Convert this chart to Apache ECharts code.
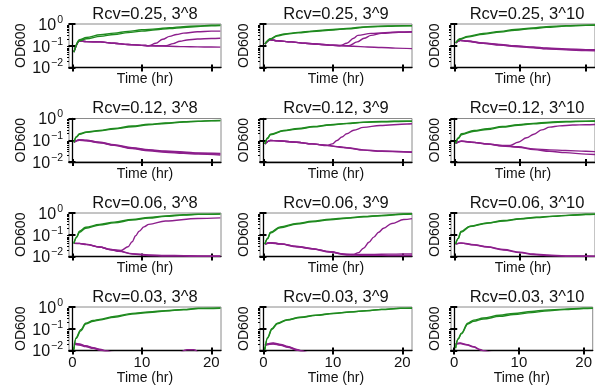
<!DOCTYPE html>
<html><head><meta charset="utf-8">
<script src="https://cdn.jsdelivr.net/npm/echarts@6/dist/echarts.min.js"></script>
<style>html,body{margin:0;padding:0;background:#fff}#c{width:595px;height:388px}</style>
</head><body><div id="c"></div>
<script>
// ---- labels ----
const rcvLabels = ['0.25', '0.12', '0.06', '0.03'];
const powLabels = ['3^8', '3^9', '3^10'];
const xTicks = [0, 10, 20];
const yTicks = [0.01, 0.1, 1];
const yMinorTicks = [0.02,0.03,0.04,0.05,0.06,0.07,0.08,0.09,0.2,0.3,0.4,0.5,0.6,0.7,0.8,0.9];
const yTickExp = {'0.01': '\u22122', '0.1': '\u22121', '1': '0'};

// ---- data: [time (hr), OD600] ----
// Rcv=0.25, 3^8
const G_025_8a = [[0.2,0.051],[1,0.19],[2,0.24],[4,0.32],[6,0.38],[8,0.46],[10,0.54],[12,0.6],[14,0.68],[16,0.76],[18,0.81],[20,0.87],[21.3,0.89]];
const G_025_8b = [[0.2,0.051],[1,0.17],[2,0.21],[4,0.27],[6,0.33],[8,0.4],[10,0.47],[12,0.54],[14,0.62],[16,0.69],[18,0.76],[20,0.83],[21.3,0.85]];
const P_025_8a = [[0.2,0.051],[1,0.166],[2,0.155],[4,0.15],[6,0.13],[8,0.115],[10,0.104],[11,0.1],[12,0.098],[14,0.095],[16,0.091],[18,0.089],[20,0.087],[21.3,0.086]];
const P_025_8b = [[0.2,0.051],[1,0.166],[2,0.155],[4,0.15],[6,0.13],[8,0.115],[10,0.104],[11,0.1],[12,0.13],[13,0.2],[14,0.27],[15,0.33],[16,0.38],[18,0.44],[20,0.47],[21.3,0.47]];
const P_025_8c = [[0.2,0.051],[1,0.166],[2,0.155],[4,0.15],[6,0.13],[8,0.115],[10,0.104],[11,0.1],[13.5,0.1],[14.5,0.125],[15.5,0.16],[16.5,0.185],[18,0.205],[20,0.215],[21.3,0.22]];
// Rcv=0.25, 3^9
const G_025_9a = [[0.2,0.12],[1,0.21],[2,0.3],[3,0.35],[5,0.41],[7,0.47],[10,0.56],[12,0.62],[15,0.76],[18,0.81],[20,0.83],[21.4,0.84]];
const G_025_9b = [[0.2,0.12],[1,0.2],[2,0.28],[3,0.33],[5,0.39],[7,0.45],[10,0.53],[12,0.6],[15,0.72],[18,0.79],[20,0.82],[21.4,0.83]];
const P_025_9a = [[0.2,0.12],[1,0.19],[2,0.17],[4,0.15],[6,0.13],[8,0.117],[10,0.105],[11.5,0.1],[13,0.095],[15,0.088],[17,0.083],[19,0.078],[21.4,0.074]];
const P_025_9b = [[0.2,0.12],[1,0.19],[2,0.17],[4,0.15],[6,0.13],[8,0.117],[10,0.105],[11,0.1],[12,0.13],[13,0.22],[13.6,0.3],[15.5,0.37],[19.5,0.43],[21.4,0.44]];
const P_025_9c = [[0.2,0.12],[1,0.19],[2,0.17],[4,0.15],[6,0.13],[8,0.117],[10,0.105],[12.3,0.1],[13.5,0.15],[14.5,0.22],[15.5,0.3],[17,0.37],[19.5,0.42],[21.4,0.43]];
// Rcv=0.25, 3^10
const G_025_10a = [[0.2,0.135],[0.9,0.21],[2,0.27],[4.4,0.37],[7,0.46],[9.2,0.56],[12,0.66],[14,0.76],[17,0.84],[20,0.89],[21.4,0.9]];
const G_025_10b = [[0.2,0.135],[0.9,0.2],[2,0.25],[4.4,0.34],[7,0.43],[9.2,0.52],[12,0.62],[14,0.7],[17,0.8],[20,0.86],[21.4,0.87]];
const P_025_10a = [[0.2,0.135],[0.9,0.18],[2,0.165],[4.4,0.135],[7,0.115],[9.2,0.1],[12,0.088],[14,0.079],[17,0.072],[20,0.066],[21.4,0.065]];
const P_025_10b = [[0.2,0.135],[0.9,0.18],[2,0.16],[4.4,0.13],[7,0.11],[9.2,0.096],[12,0.084],[14,0.075],[17,0.068],[20,0.062],[21.4,0.061]];
const P_025_10c = [[0.2,0.135],[0.9,0.175],[2,0.16],[4.4,0.128],[7,0.107],[9.2,0.093],[12,0.081],[14,0.072],[17,0.065],[20,0.06],[21.4,0.059]];
// Rcv=0.12, 3^8
const G_012_8a = [[0.2,0.081],[0.6,0.15],[1,0.2],[2,0.24],[3.9,0.28],[6,0.35],[8.6,0.45],[11,0.54],[13.4,0.62],[16,0.71],[18.1,0.76],[20,0.8],[21.3,0.81]];
const G_012_8b = [[0.2,0.081],[0.6,0.14],[1,0.19],[2,0.23],[3.9,0.27],[6,0.33],[8.6,0.42],[11,0.51],[13.4,0.59],[16,0.68],[18.1,0.74],[20,0.78],[21.3,0.8]];
const P_012_8a = [[0.2,0.081],[1,0.105],[2,0.1],[3.9,0.081],[6,0.062],[8.6,0.045],[11,0.037],[13.4,0.032],[16,0.029],[18.1,0.026],[21.3,0.025]];
const P_012_8b = [[0.2,0.081],[1,0.105],[2,0.098],[3.9,0.079],[6,0.06],[8.6,0.043],[11,0.035],[13.4,0.03],[16,0.027],[18.1,0.025],[21.3,0.023]];
const P_012_8c = [[0.2,0.081],[1,0.1],[2,0.095],[3.9,0.077],[6,0.058],[8.6,0.041],[11,0.033],[13.4,0.028],[16,0.025],[18.1,0.023],[21.3,0.021]];
// Rcv=0.12, 3^9
const G_012_9a = [[0.2,0.068],[0.6,0.13],[1,0.19],[2.9,0.28],[5,0.35],[7.2,0.43],[9.6,0.52],[12,0.6],[14.4,0.68],[17,0.73],[20.7,0.76],[21.4,0.76]];
const G_012_9b = [[0.2,0.068],[0.6,0.12],[1,0.18],[2.9,0.27],[5,0.33],[7.2,0.41],[9.6,0.5],[12,0.58],[14.4,0.66],[17,0.71],[20.7,0.75],[21.4,0.75]];
const P_012_9a = [[0.2,0.068],[1,0.098],[2,0.095],[4.8,0.081],[7,0.068],[9.2,0.058],[11,0.05],[12,0.046],[14.4,0.036],[17,0.032],[20.2,0.03],[21.4,0.029]];
const P_012_9b = [[0.2,0.068],[1,0.098],[2,0.095],[4.8,0.081],[7,0.068],[9.2,0.057],[11,0.048],[12,0.044],[14.4,0.035],[17,0.031],[20.2,0.029],[21.4,0.028]];
const P_012_9c = [[0.2,0.068],[1,0.098],[2,0.095],[4.8,0.081],[7,0.068],[9.2,0.058],[9.9,0.068],[10.6,0.098],[11.3,0.14],[12,0.2],[13,0.29],[14.4,0.39],[16.8,0.48],[20.7,0.56],[21.4,0.57]];
// Rcv=0.12, 3^10
const G_012_10a = [[0.2,0.072],[0.6,0.13],[1.1,0.2],[3,0.28],[5,0.34],[7.3,0.43],[9.7,0.52],[12,0.6],[14.5,0.68],[17,0.73],[20,0.76],[21.4,0.77]];
const G_012_10b = [[0.2,0.072],[0.6,0.12],[1.1,0.18],[3,0.26],[5,0.31],[7.3,0.4],[9.7,0.49],[12,0.57],[14.5,0.64],[17,0.7],[20,0.74],[21.4,0.75]];
const P_012_10a = [[0.2,0.072],[1.1,0.091],[3,0.08],[5,0.068],[7.3,0.058],[8.5,0.058],[9.7,0.081],[11,0.13],[12.1,0.19],[13.3,0.3],[14.5,0.4],[16,0.46],[18,0.5],[20,0.52],[21.4,0.53]];
const P_012_10b = [[0.2,0.072],[1.1,0.091],[3,0.08],[5,0.068],[7.3,0.056],[9.7,0.05],[12.1,0.04],[14.5,0.036],[16.9,0.034],[20,0.031],[21.4,0.03]];
const P_012_10c = [[0.2,0.072],[1.1,0.09],[3,0.079],[5,0.066],[7.3,0.054],[9.7,0.048],[12.1,0.037],[14.5,0.031],[16.9,0.027],[20,0.023],[21.4,0.022]];
// Rcv=0.06, 3^8
const G_006_8a = [[0.2,0.04],[0.6,0.08],[1,0.145],[1.9,0.22],[3.9,0.3],[6,0.38],[8.6,0.51],[11,0.62],[13.4,0.74],[16,0.83],[18.1,0.89],[21.3,0.91]];
const G_006_8b = [[0.2,0.04],[0.6,0.075],[1,0.13],[1.9,0.2],[3.9,0.28],[6,0.35],[8.6,0.47],[11,0.58],[13.4,0.7],[16,0.8],[18.1,0.86],[21.3,0.89]];
const P_006_8a = [[0.2,0.04],[1,0.04],[2,0.036],[3.9,0.0275],[5.5,0.021],[6.7,0.0178],[8.6,0.0135],[11,0.0118],[13.4,0.0112],[16,0.011],[18,0.0107],[21.3,0.0105]];
const P_006_8b = [[0.2,0.04],[1,0.039],[2,0.035],[3.9,0.027],[5.5,0.0205],[6.7,0.0172],[8.6,0.013],[11,0.0112],[13.4,0.0106],[16,0.0104],[18,0.0102],[21.3,0.0101]];
const P_006_8c = [[0.2,0.04],[1,0.04],[2,0.036],[3.9,0.0275],[5.5,0.021],[7,0.019],[8,0.028],[8.6,0.048],[9.1,0.09],[9.6,0.145],[10.3,0.23],[11,0.3],[13.4,0.43],[18,0.56],[21.3,0.6]];
// Rcv=0.06, 3^9
const G_006_9a = [[0.2,0.037],[0.6,0.07],[1,0.13],[2.4,0.23],[4.8,0.33],[7,0.42],[9.6,0.52],[12,0.6],[14.4,0.69],[17,0.78],[20.2,0.91],[21.4,0.92]];
const G_006_9b = [[0.2,0.037],[0.6,0.065],[1,0.12],[2.4,0.21],[4.8,0.31],[7,0.39],[9.6,0.49],[12,0.57],[14.4,0.66],[17,0.75],[20.2,0.88],[21.4,0.9]];
const P_006_9a = [[0.2,0.037],[1,0.043],[2.5,0.038],[4.8,0.029],[7,0.023],[9.6,0.0166],[12,0.0123],[14,0.0123],[16,0.0125],[18,0.0128],[20.2,0.013],[21.4,0.013]];
const P_006_9b = [[0.2,0.037],[1,0.042],[2.5,0.037],[4.8,0.028],[7,0.022],[9.6,0.016],[12,0.0118],[14,0.0115],[16,0.0113],[18,0.0112],[20.2,0.011],[21.4,0.011]];
const P_006_9c = [[0.2,0.037],[1,0.043],[2.5,0.038],[4.8,0.029],[7,0.023],[9.6,0.0166],[11,0.0135],[12.9,0.0123],[13.7,0.015],[14.4,0.024],[15.2,0.045],[15.9,0.078],[16.6,0.13],[17.3,0.2],[18.5,0.33],[20.2,0.5],[21.4,0.55]];
// Rcv=0.06, 3^10
const G_006_10a = [[0.2,0.037],[0.6,0.07],[1,0.14],[2.4,0.25],[5,0.35],[7.5,0.45],[10,0.55],[12.5,0.64],[15,0.72],[17.5,0.8],[20,0.87],[21.4,0.89]];
const G_006_10b = [[0.2,0.037],[0.6,0.066],[1,0.13],[2.4,0.24],[5,0.34],[7.5,0.43],[10,0.53],[12.5,0.62],[15,0.7],[17.5,0.78],[20,0.85],[21.4,0.87]];
const P_006_10a = [[0.2,0.037],[1,0.042],[3,0.035],[5,0.028],[7.5,0.021],[10,0.0158],[12,0.013],[14,0.0117],[17,0.0107],[20,0.0105],[21.4,0.0104]];
const P_006_10b = [[0.2,0.037],[1,0.041],[3,0.034],[5,0.027],[7.5,0.02],[10,0.015],[12,0.0124],[14,0.0112],[17,0.0103],[20,0.0101],[21.4,0.0101]];
// Rcv=0.03, 3^8
const G_003_8a = [[0.2,0.011],[0.5,0.038],[1.2,0.09],[1.9,0.18],[3,0.24],[3.9,0.27],[6,0.37],[8.6,0.51],[11,0.6],[13.4,0.68],[16,0.78],[18.1,0.87],[21.3,0.9]];
const G_003_8b = [[0.2,0.011],[0.5,0.035],[1.2,0.08],[1.9,0.165],[3,0.22],[3.9,0.25],[6,0.34],[8.6,0.47],[11,0.56],[13.4,0.65],[16,0.75],[18.1,0.84],[21.3,0.88]];
const P_003_8a = [[0.2,0.022],[1,0.02],[1.9,0.0165],[3,0.0135],[3.9,0.0115],[5,0.0095],[6,0.008],[8,0.006],[12,0.005],[15,0.007],[16.5,0.0108],[17.5,0.0108],[18.5,0.007],[21.3,0.005]];
const P_003_8b = [[0.2,0.021],[1,0.019],[1.9,0.0158],[3,0.013],[3.9,0.011],[5,0.009],[6,0.0075],[9,0.005],[21.3,0.004]];
const P_003_8c = [[0.2,0.02],[1,0.018],[1.9,0.015],[3,0.0125],[3.9,0.0105],[5,0.0086],[6,0.007],[9,0.005],[21.3,0.004]];
// Rcv=0.03, 3^9
const G_003_9a = [[0.2,0.011],[0.6,0.04],[1.2,0.1],[2,0.18],[3.4,0.26],[5.3,0.34],[7.5,0.42],[10.1,0.51],[12.5,0.6],[14.9,0.68],[17,0.78],[19.7,0.87],[21.4,0.89]];
const G_003_9b = [[0.2,0.011],[0.6,0.037],[1.2,0.092],[2,0.17],[3.4,0.25],[5.3,0.33],[7.5,0.41],[10.1,0.5],[12.5,0.59],[14.9,0.67],[17,0.77],[19.7,0.86],[21.4,0.88]];
const P_003_9a = [[0.2,0.0186],[1.4,0.022],[2.5,0.019],[3.5,0.0155],[4.8,0.0112],[5.5,0.0095],[7,0.007],[21.4,0.005]];
const P_003_9b = [[0.2,0.018],[1.4,0.021],[2.5,0.018],[3.5,0.0148],[4.8,0.0108],[5.5,0.0092],[7,0.007],[21.4,0.005]];
const P_003_9c = [[0.2,0.0175],[1.4,0.02],[2.5,0.0172],[3.5,0.014],[4.8,0.0104],[5.5,0.009],[7,0.007],[21.4,0.005]];
// Rcv=0.03, 3^10
const G_003_10a = [[0.2,0.013],[0.6,0.035],[1.1,0.063],[2.1,0.18],[3,0.25],[4.5,0.31],[7,0.42],[9.2,0.51],[12,0.62],[14,0.72],[17,0.8],[20,0.87],[21.4,0.88]];
const G_003_10b = [[0.2,0.013],[0.6,0.033],[1.1,0.058],[2.1,0.165],[3,0.22],[4.5,0.28],[7,0.37],[9.2,0.45],[12,0.55],[14,0.65],[17,0.76],[20,0.85],[21.4,0.87]];
const P_003_10a = [[0.2,0.02],[0.9,0.022],[2,0.0186],[3,0.015],[4,0.0112],[4.5,0.0098],[6,0.008],[21.4,0.005]];
const P_003_10b = [[0.2,0.019],[0.9,0.021],[2,0.0178],[3,0.0143],[4,0.0107],[4.5,0.0094],[6,0.0078],[21.4,0.005]];

const panels = [
  [[G_025_8a, G_025_8b], [P_025_8a, P_025_8b, P_025_8c]],
  [[G_025_9a, G_025_9b], [P_025_9a, P_025_9b, P_025_9c]],
  [[G_025_10a, G_025_10b], [P_025_10a, P_025_10b, P_025_10c]],
  [[G_012_8a, G_012_8b], [P_012_8a, P_012_8b, P_012_8c]],
  [[G_012_9a, G_012_9b], [P_012_9a, P_012_9b, P_012_9c]],
  [[G_012_10a, G_012_10b], [P_012_10a, P_012_10b, P_012_10c]],
  [[G_006_8a, G_006_8b], [P_006_8a, P_006_8b, P_006_8c]],
  [[G_006_9a, G_006_9b], [P_006_9a, P_006_9b, P_006_9c]],
  [[G_006_10a, G_006_10b], [P_006_10a, P_006_10b]],
  [[G_003_8a, G_003_8b], [P_003_8a, P_003_8b, P_003_8c]],
  [[G_003_9a, G_003_9b], [P_003_9a, P_003_9b, P_003_9c]],
  [[G_003_10a, G_003_10b], [P_003_10a, P_003_10b]]
];

// ---- layout ----
const FONT = "'Liberation Sans', Arial, sans-serif";
const GREEN = '#1f8a1f', PURPLE = '#8c1f8c';
const colLeft = [69, 260, 451];
const rowTop = [24, 118.5, 213, 307];
const gw = 152, gh = 43.5;
const xMin = -0.5, xMax = 21.4;

const grids = [], xAxes = [], yAxes = [], series = [], titles = [];
for (let r = 0; r < 4; r++) {
  for (let c = 0; c < 3; c++) {
    const k = r * 3 + c;
    grids.push({left: colLeft[c], top: rowTop[r], width: gw, height: gh, show: true,
      borderColor: '#8a8a8a', borderWidth: 1, backgroundColor: 'transparent'});
    titles.push({text: 'Rcv=' + rcvLabels[r] + ', ' + powLabels[c], left: colLeft[c] + gw / 2,
      top: rowTop[r] - 18.5, textAlign: 'center', padding: 0,
      textStyle: {fontFamily: FONT, fontSize: 16.5, fontWeight: 'normal', color: '#111'}});
    const last = r === 3;
    xAxes.push({type: 'value', gridIndex: k, min: xMin, max: xMax, position: 'bottom',
      name: 'Time (hr)', nameLocation: 'middle', nameGap: last ? 19 : 5,
      nameTextStyle: {fontFamily: FONT, fontSize: 14, color: '#111', verticalAlign: 'top'},
      axisLine: {show: true, lineStyle: {color: '#000', width: 1.3}},
      axisTick: {show: true, inside: true, length: 3, customValues: xTicks, lineStyle: {color: '#000', width: 2}},
      axisLabel: {show: last, customValues: xTicks, margin: 5, fontFamily: FONT, fontSize: 15, color: '#111'},
      splitLine: {show: false}});
    xAxes.push({type: 'value', gridIndex: k, min: xMin, max: xMax, position: 'bottom',
      axisLine: {show: false},
      axisTick: {show: true, inside: false, length: 4, customValues: xTicks, lineStyle: {color: '#000', width: 2}},
      axisLabel: {show: false}, splitLine: {show: false}});
    yAxes.push({type: 'log', logBase: 10, gridIndex: k, min: 0.01, max: 1, position: 'left',
      name: 'OD600', nameLocation: 'middle', nameGap: c === 0 ? 31 : 9, nameRotate: 90,
      nameTextStyle: {fontFamily: FONT, fontSize: 14, color: '#111'},
      axisLine: {show: true, lineStyle: {color: '#000', width: 1.3}},
      axisTick: {show: true, inside: true, length: 3, customValues: yTicks, lineStyle: {color: '#000', width: 2}},
      axisLabel: {show: c === 0, customValues: yTicks, margin: 6,
        formatter: v => '{b|10}{s|' + yTickExp[String(+v.toPrecision(3))] + '}',
        rich: {b: {fontFamily: FONT, fontSize: 16, color: '#111', verticalAlign: 'bottom'},
               s: {fontFamily: FONT, fontSize: 10.5, color: '#111', verticalAlign: 'bottom', padding: [0, 0, 8, 1]}}},
      splitLine: {show: false}});
    yAxes.push({type: 'log', logBase: 10, gridIndex: k, min: 0.01, max: 1, position: 'left',
      axisLine: {show: false},
      axisTick: {show: true, inside: false, length: 4, customValues: yTicks, lineStyle: {color: '#000', width: 2}},
      axisLabel: {show: false}, splitLine: {show: false}});
    yAxes.push({type: 'log', logBase: 10, gridIndex: k, min: 0.01, max: 1, position: 'left',
      axisLine: {show: false},
      axisTick: {show: true, inside: false, length: 2, customValues: yMinorTicks, lineStyle: {color: '#000', width: 1}},
      axisLabel: {show: false}, splitLine: {show: false}});
    const yi = 3 * k;
    const [greens, purples] = panels[k];
    purples.forEach(d => series.push({type: 'line', xAxisIndex: 2 * k, yAxisIndex: yi, data: d,
      symbol: 'none', smooth: 0.35, smoothMonotone: 'x', silent: true, z: 2,
      lineStyle: {color: PURPLE, width: 1.4}}));
    greens.forEach(d => series.push({type: 'line', xAxisIndex: 2 * k, yAxisIndex: yi, data: d,
      symbol: 'none', smooth: 0.35, smoothMonotone: 'x', silent: true, z: 3,
      lineStyle: {color: GREEN, width: 1.4}}));
  }
}

const chart = echarts.init(document.getElementById('c'), null, {renderer: 'canvas'});
chart.setOption({animation: false, backgroundColor: '#fff', title: titles, grid: grids,
  xAxis: xAxes, yAxis: yAxes, series: series, tooltip: {show: false}});
</script></body></html>
